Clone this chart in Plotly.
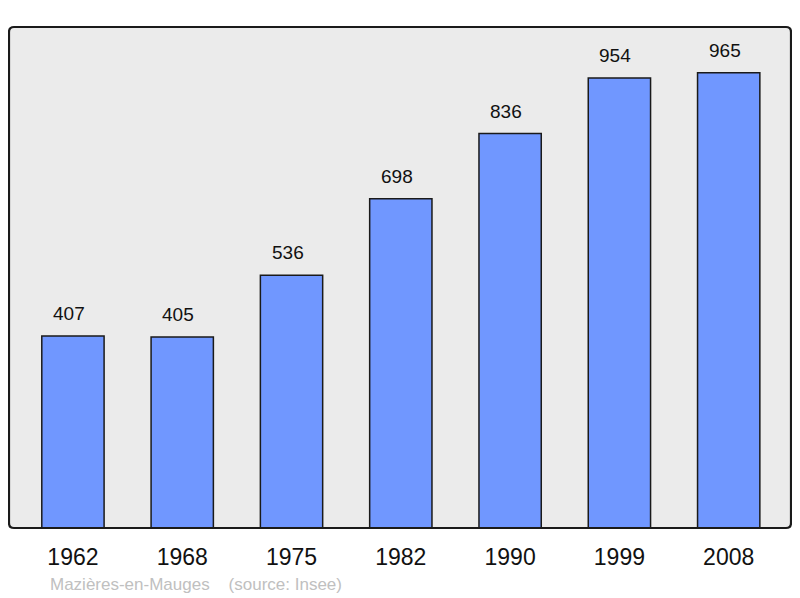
import plotly.graph_objects as go

years = ["1962", "1968", "1975", "1982", "1990", "1999", "2008"]
population = [407, 405, 536, 698, 836, 954, 965]
caption = "Mazières-en-Mauges    (source: Insee)"

# page body has an 8px margin, so the figure is offset by (8, 8)
W, H = 792, 590
ml, mr, mt, mb = 1, 9, 19, 70
pw, ph = W - ml - mr, H - mt - mb
FONT = "Liberation Sans, Arial"

fig = go.Figure()
fig.add_trace(go.Bar(
    x=list(range(len(years))), y=population, width=0.57,
    marker=dict(color="#7097ff", line=dict(color="#1a1a1a", width=1.5)),
    hoverinfo="skip",
))

for i, v in enumerate(population):
    fig.add_annotation(x=i, y=v, text=str(v), showarrow=False, yanchor="bottom",
                       yshift=10, xshift=-4, font=dict(size=19, color="#111", family=FONT))

# rounded frame around plot area
rx, ry = 5 / pw, 5 / ph
path = (f"M {rx},0 L {1-rx},0 Q 1,0 1,{ry} L 1,{1-ry} Q 1,1 {1-rx},1 "
        f"L {rx},1 Q 0,1 0,{1-ry} L 0,{ry} Q 0,0 {rx},0 Z")
fig.add_shape(type="path", path=path, xref="paper", yref="paper",
              line=dict(color="#1a1a1a", width=2.2), layer="above")

fig.add_annotation(x=(40 - ml) / pw, y=-56 / ph, xref="paper", yref="paper",
                   text=caption, showarrow=False, xanchor="left", yanchor="middle",
                   font=dict(size=17, color="#c0c0c0", family=FONT))

fig.update_layout(
    width=W, height=H, margin=dict(l=ml, r=mr, t=mt, b=mb),
    paper_bgcolor="white", plot_bgcolor="#ebebeb", showlegend=False,
    xaxis=dict(range=[-0.585, 6.57], tickmode="array", tickvals=list(range(len(years))),
               ticktext=years, showgrid=False, zeroline=False, ticks="outside",
               ticklen=8, tickcolor="rgba(0,0,0,0)",
               tickfont=dict(size=23, color="#111", family=FONT)),
    yaxis=dict(range=[0, 1062], showgrid=False, zeroline=False, showticklabels=False),
)

fig.write_html("out.html")
